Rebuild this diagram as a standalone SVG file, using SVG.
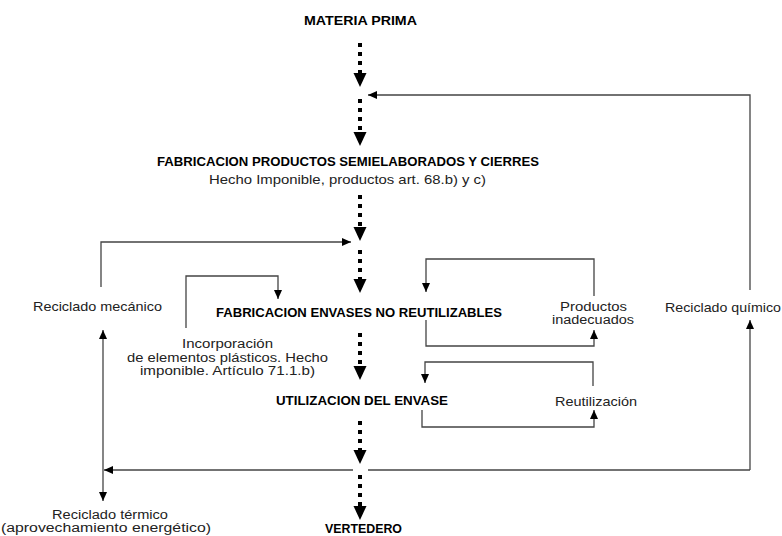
<svg xmlns="http://www.w3.org/2000/svg" width="782" height="536" viewBox="0 0 782 536">
<defs>
<style>
.t{font-family:"Liberation Sans",Arial,sans-serif;font-size:13px;fill:#222;text-anchor:middle}
.s{font-size:12px}
.b{font-family:"Liberation Sans",Arial,sans-serif;font-size:13px;font-weight:bold;fill:#000;text-anchor:middle}
.dot{fill:none;stroke:#000;stroke-width:4;stroke-dasharray:4 5;marker-end:url(#big)}
.c{fill:none;stroke:#444;stroke-width:1.3;marker-end:url(#small)}
.n{fill:none;stroke:#444;stroke-width:1.3}
</style>
<marker id="big" markerUnits="userSpaceOnUse" markerWidth="14" markerHeight="14" refX="0" refY="6.5" orient="auto" overflow="visible">
<path d="M0,0 L14,6.5 L0,13 z" fill="#000"/>
</marker>
<marker id="small" markerUnits="userSpaceOnUse" markerWidth="9" markerHeight="8" refX="9" refY="4" orient="auto" overflow="visible">
<path d="M0,0 L9,4 L0,8 z" fill="#000"/>
</marker>
</defs>
<rect width="782" height="536" fill="#fff"/>

<g id="connectors">
<path class="dot" d="M360,43 V73"/>
<path class="dot" d="M360,99 V132"/>
<path class="dot" d="M360,195 V227"/>
<path class="dot" d="M360,250 V279"/>
<path class="dot" d="M360,333 V366"/>
<path class="dot" d="M360,421 V450"/>
<path class="dot" d="M360,475 V506"/>
<path class="c" d="M750,290 V95 H368"/>
<path class="c" d="M750,470 V320"/>
<path class="c" d="M101,287 V242 H351"/>
<path class="c" d="M186,328 V276 H278 V299"/>
<path class="c" d="M594,296 V259 H426 V292"/>
<path class="c" d="M426,320 V346 H594 V330"/>
<path class="c" d="M593,386 V362 H425 V383"/>
<path class="c" d="M422,410 V427 H594 V410"/>
<path class="n" d="M750,470 H368"/>
<path class="c" d="M353,470 H104"/>
<path class="c" d="M103,415 V330"/>
<path class="c" d="M103,415 V501"/>
</g>

<g id="materia-prima"><text class="b" x="360.5" y="25" textLength="113" lengthAdjust="spacingAndGlyphs">MATERIA PRIMA</text></g>
<g id="fabricacion-semielaborados">
<text class="b" x="348" y="166" textLength="382" lengthAdjust="spacingAndGlyphs">FABRICACION PRODUCTOS SEMIELABORADOS Y CIERRES</text>
<text class="t" x="347.5" y="184" textLength="277" lengthAdjust="spacingAndGlyphs">Hecho Imponible, productos art. 68.b) y c)</text>
</g>
<g id="reciclado-mecanico"><text class="t" x="97.5" y="311" textLength="129" lengthAdjust="spacingAndGlyphs">Reciclado mecánico</text></g>
<g id="fabricacion-envases"><text class="b" x="359" y="317" textLength="286" lengthAdjust="spacingAndGlyphs">FABRICACION ENVASES NO REUTILIZABLES</text></g>
<g id="incorporacion">
<text class="t s" x="227.5" y="348" textLength="91" lengthAdjust="spacingAndGlyphs">Incorporación</text>
<text class="t s" x="227.5" y="362" textLength="201" lengthAdjust="spacingAndGlyphs">de elementos plásticos. Hecho</text>
<text class="t s" x="227.5" y="375" textLength="175" lengthAdjust="spacingAndGlyphs">imponible. Artículo 71.1.b)</text>
</g>
<g id="productos-inadecuados">
<text class="t s" x="593.5" y="311" textLength="67" lengthAdjust="spacingAndGlyphs">Productos</text>
<text class="t s" x="593" y="324" textLength="82" lengthAdjust="spacingAndGlyphs">inadecuados</text>
</g>
<g id="reciclado-quimico"><text class="t" x="723" y="312" textLength="116" lengthAdjust="spacingAndGlyphs">Reciclado químico</text></g>
<g id="utilizacion"><text class="b" x="362" y="405" textLength="172" lengthAdjust="spacingAndGlyphs">UTILIZACION DEL ENVASE</text></g>
<g id="reutilizacion"><text class="t" x="596" y="406" textLength="82" lengthAdjust="spacingAndGlyphs">Reutilización</text></g>
<g id="reciclado-termico">
<text class="t s" x="110" y="519" textLength="116" lengthAdjust="spacingAndGlyphs">Reciclado térmico</text>
<text class="t s" x="106" y="532" textLength="210" lengthAdjust="spacingAndGlyphs">(aprovechamiento energético)</text>
</g>
<g id="vertedero"><text class="b" x="363.5" y="533" textLength="77" lengthAdjust="spacingAndGlyphs">VERTEDERO</text></g>
</svg>
